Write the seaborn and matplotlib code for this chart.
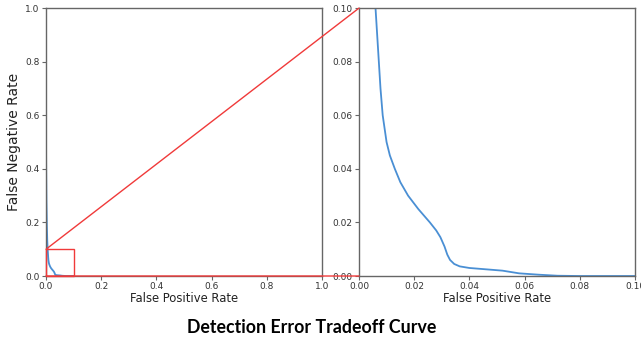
import numpy as np
import pandas as pd
import matplotlib
matplotlib.use("Agg")
import matplotlib.pyplot as plt
import seaborn as sns
from matplotlib.patches import Rectangle, ConnectionPatch

# DET curve
fpr = [0.0, 0.0005, 0.0015, 0.003, 0.0045, 0.0060, 0.0066, 0.0072, 0.0078, 0.0086,
       0.0100, 0.0112, 0.0130, 0.0150, 0.0178, 0.0215, 0.0257, 0.0280, 0.0295, 0.0310,
       0.0320, 0.0330, 0.0345, 0.0365, 0.040, 0.046, 0.052, 0.058, 0.065, 0.072,
       0.080, 0.100]
fnr = [0.50, 0.40, 0.28, 0.19, 0.13, 0.100, 0.090, 0.080, 0.070, 0.060,
       0.050, 0.045, 0.040, 0.035, 0.030, 0.025, 0.020, 0.0170, 0.0145, 0.011,
       0.008, 0.006, 0.0045, 0.0036, 0.0030, 0.0025, 0.0020, 0.0010, 0.0005, 0.0001,
       0.0, 0.0]

df = pd.DataFrame({"fpr": fpr, "fnr": fnr})

zoom_lim = 0.1
left_ticks = [0.0, 0.2, 0.4, 0.6, 0.8, 1.0]
right_ticks = [0.00, 0.02, 0.04, 0.06, 0.08, 0.10]

sns.set_style("white")
plt.rcParams['font.family'] = ['DejaVu Sans']

fig = plt.figure(figsize=(6.41, 3.43), dpi=100)
ax1 = fig.add_axes([0.0718, 0.1953, 0.4306, 0.781])
ax2 = fig.add_axes([0.5600, 0.1953, 0.4306, 0.781])

line_color = "#4a8fd4"
for ax in (ax1, ax2):
    sns.lineplot(data=df, x="fpr", y="fnr", sort=False, color=line_color,
                 linewidth=1.3, ax=ax)
    for s in ax.spines.values():
        s.set_color("#666666")
        s.set_linewidth(1.0)
    ax.tick_params(axis="both", labelsize=6.5, colors="#666666", labelcolor="#333333",
                   length=3, width=0.8, left=True, bottom=True, pad=1.5)
    ax.set_xlabel("False Positive Rate", fontsize=9.3, fontstretch="condensed",
                  color="#222222", labelpad=0.5)
    ax.set_ylabel("")

ax1.set_xlim(0, 1)
ax1.set_ylim(0, 1)
ax1.set_xticks(left_ticks)
ax1.set_yticks(left_ticks)
ax1.set_xticklabels([f"{t:.1f}" for t in left_ticks])
ax1.set_yticklabels([f"{t:.1f}" for t in left_ticks])
ax1.set_ylabel("False Negative Rate", fontsize=10, color="#222222", labelpad=3)

ax2.set_xlim(0, zoom_lim)
ax2.set_ylim(0, zoom_lim)
ax2.set_xticks(right_ticks)
ax2.set_yticks(right_ticks)
ax2.set_xticklabels([f"{t:.2f}" for t in right_ticks])
ax2.set_yticklabels([f"{t:.2f}" for t in right_ticks])

red = "#f03a3a"
ax1.add_patch(Rectangle((0, 0), zoom_lim, zoom_lim, fill=False, edgecolor=red,
                        linewidth=1.0, zorder=5, clip_on=False))
for ya, yb in [(zoom_lim, zoom_lim), (0, 0)]:
    con = ConnectionPatch(xyA=(0, ya), coordsA=ax1.transData,
                          xyB=(0, yb), coordsB=ax2.transData,
                          color=red, linewidth=1.0, zorder=6)
    fig.add_artist(con)

fig.text(0.486, 0.045, "Detection Error Tradeoff Curve", ha="center", va="center",
         fontsize=12.8, fontweight="bold", family=["Lato", "DejaVu Sans"], color="black")

fig.savefig("out.png", dpi=100)
